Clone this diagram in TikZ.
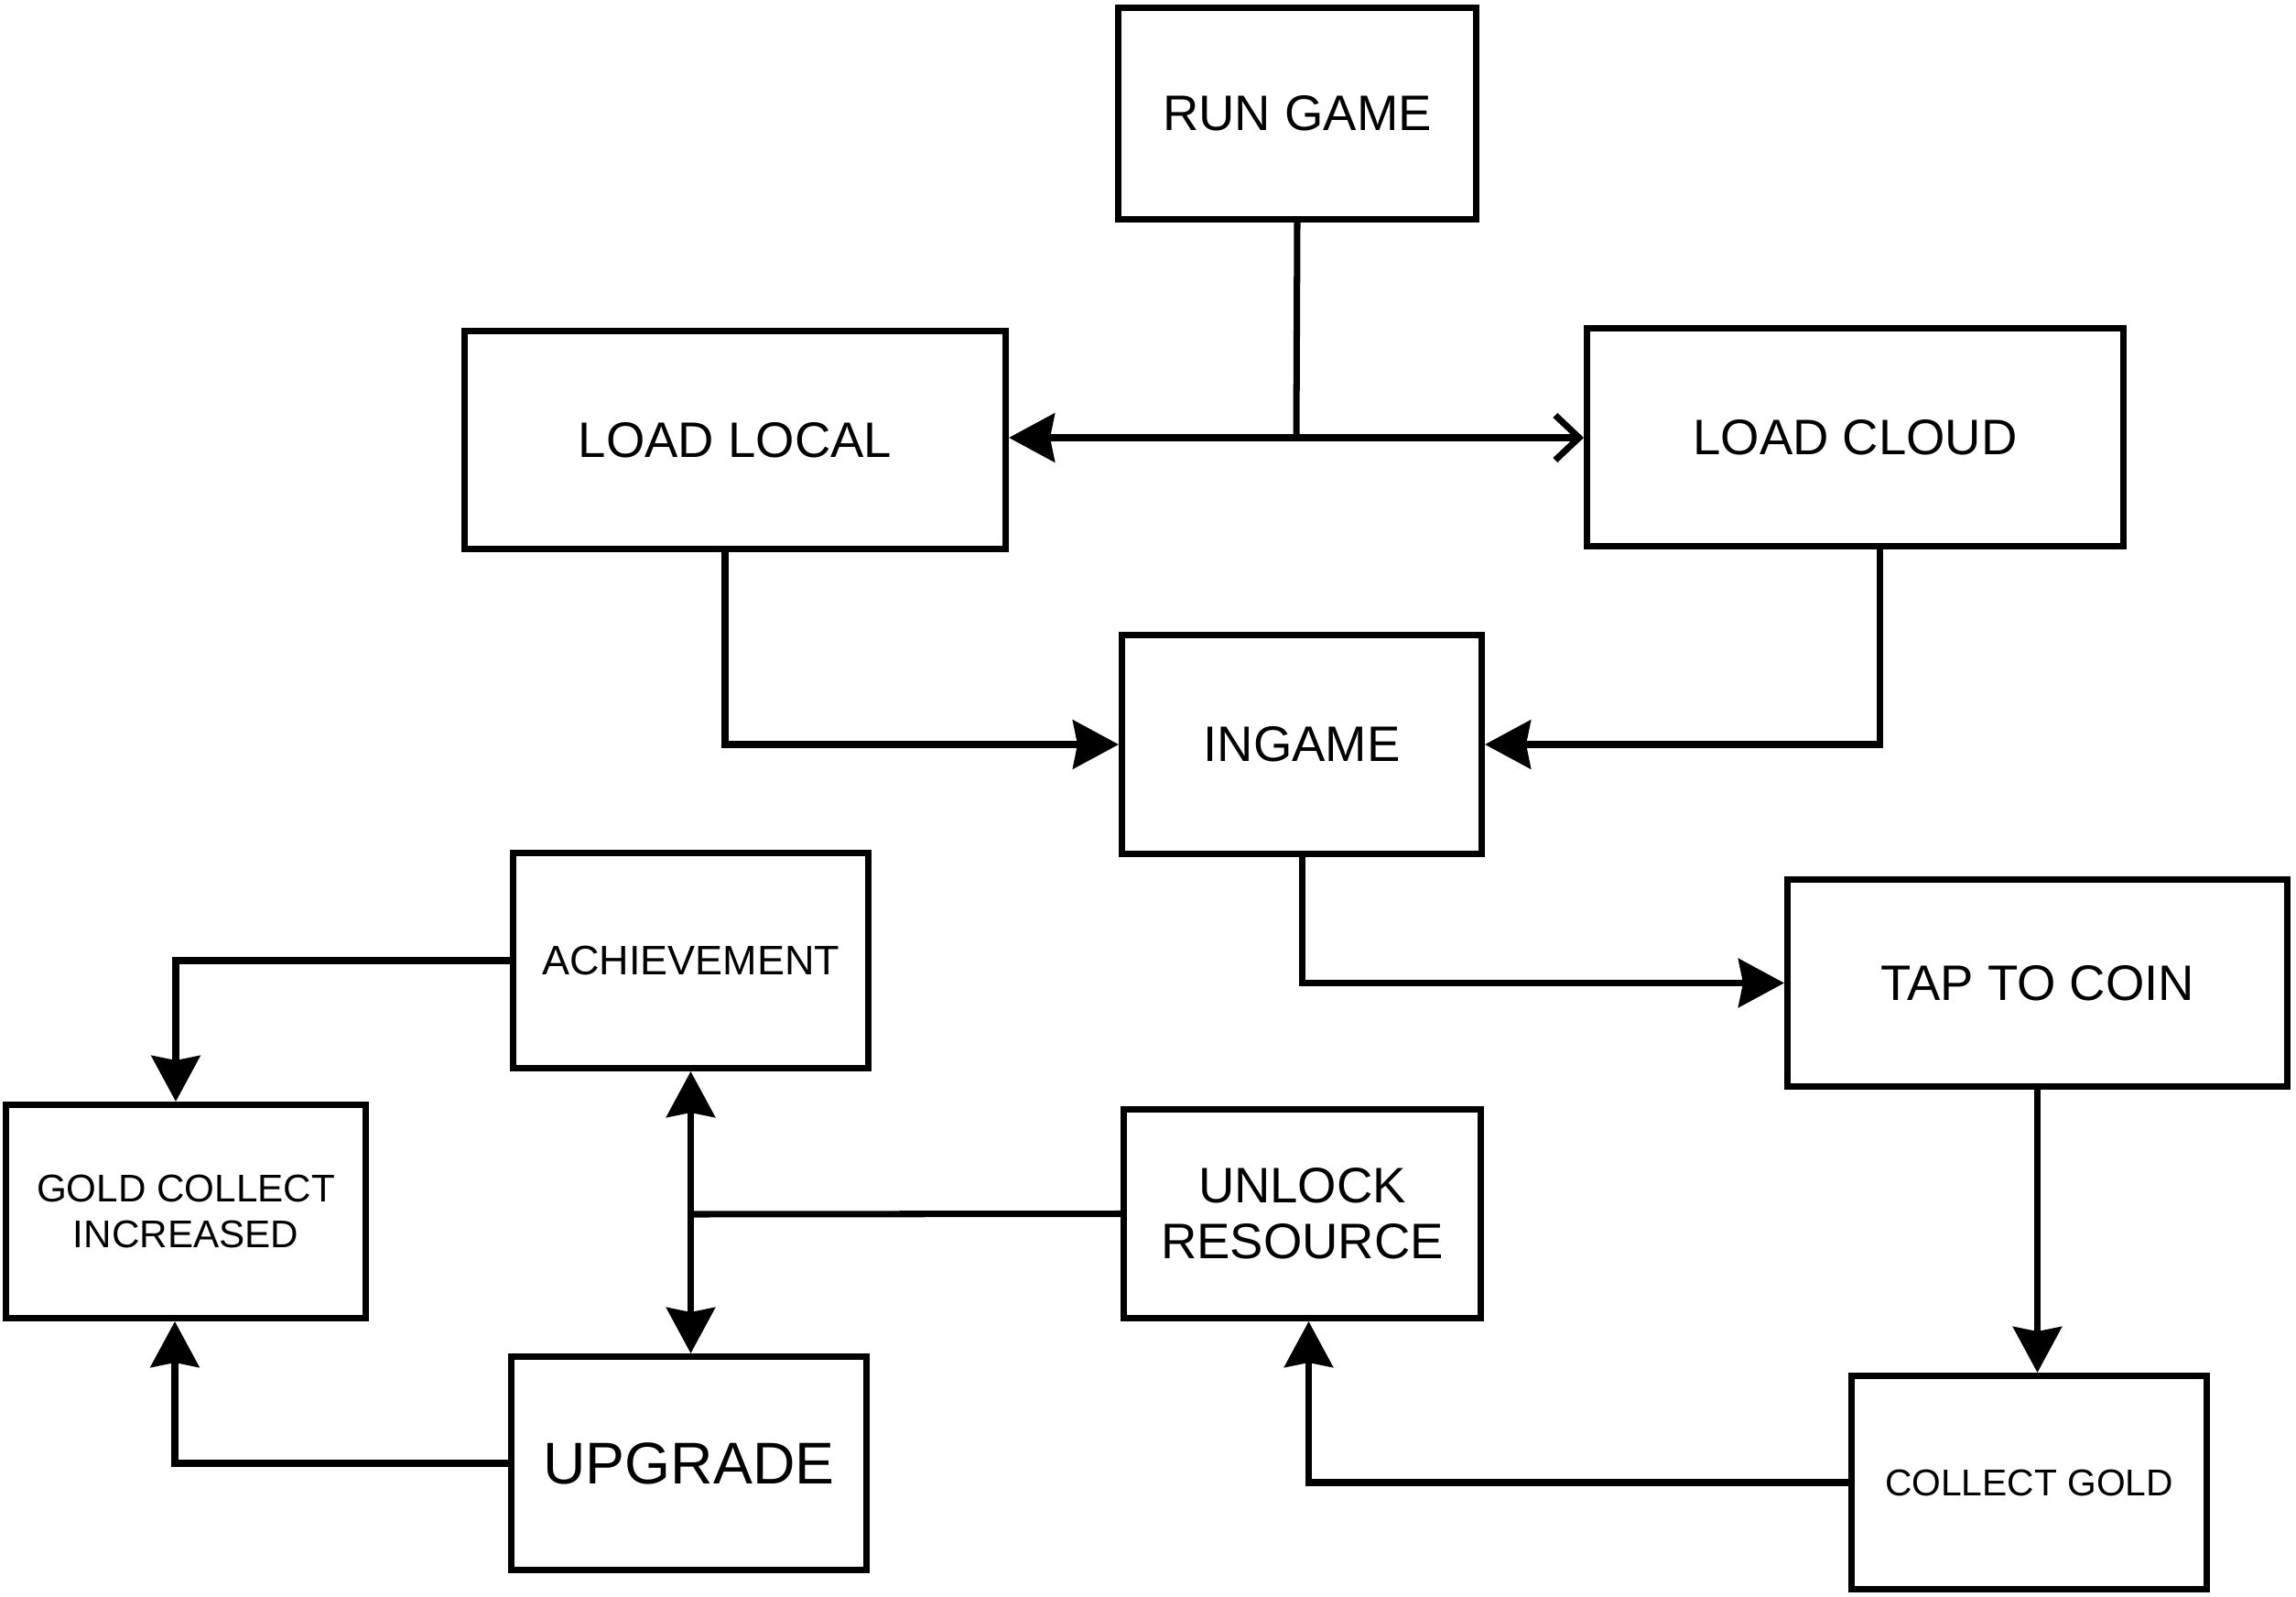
\documentclass[tikz,border=0pt]{standalone}
\usepackage{fontspec}
\setmainfont{Liberation Sans}
\usetikzlibrary{arrows.meta}

\begin{document}
\begin{tikzpicture}
                        [
                            block/.style = {draw, shape=rectangle, line width=2pt, inner sep=0pt, align=center, font=\fontsize{15.5}{17.3}\selectfont},
                            small/.style = {font=\fontsize{12}{14.1}\selectfont},
                            flow/.style = {line width=2pt, -{Stealth[length=5mm, width=5.3mm, inset=0.5mm]}},
                            both/.style = {line width=2pt, {Stealth[length=5mm, width=5.3mm, inset=0.5mm]}-{Stealth[length=5mm, width=5.3mm, inset=0.5mm]}},
                            barb/.style = {line width=2pt, -{Straight Barb[length=2.6mm, width=4.9mm, line width=2pt]}},
                            plain/.style = {line width=2pt},
                        ]

                        \useasboundingbox (0,0) rectangle (25.08,-17.44);

                        \node[block, minimum width=3.91cm, minimum height=2.31cm] (run) at (14.17,-1.24)     {RUN GAME};
                        \node[block, minimum width=5.91cm, minimum height=2.38cm] (local) at (8.03,-4.805)     {LOAD LOCAL};
                        \node[block, minimum width=5.86cm, minimum height=2.38cm] (cloud) at (20.265,-4.775)     {LOAD CLOUD};
                        \node[block, minimum width=3.93cm, minimum height=2.39cm] (ingame) at (14.22,-8.13)     {INGAME};
                        \node[block, minimum width=5.46cm, minimum height=2.26cm] (tap) at (22.255,-10.735)     {TAP TO COIN};

                        \node[block, small, minimum width=3.88cm, minimum height=2.35cm, font=\fontsize{12.8}{15}\selectfont] (ach) at (7.545,-10.49)     {ACHIEVEMENT};
                        \node[block, small, minimum width=3.93cm, minimum height=2.33cm] (gold) at (2.03,-13.23)     {GOLD COLLECT\\INCREASED};
                        \node[block, minimum width=3.90cm, minimum height=2.28cm] (unlock) at (14.225,-13.255)     {UNLOCK\\RESOURCE};
                        \node[block, minimum width=3.88cm, minimum height=2.33cm, font=\fontsize{18.3}{22}\selectfont] (upgrade) at (7.525,-15.98)     {UPGRADE};
                        \node[block, small, minimum width=3.88cm, minimum height=2.33cm, font=\fontsize{11.6}{14}\selectfont] (collect) at (22.165,-16.19)     {COLLECT GOLD};

                        \coordinate (split) at (14.16,-4.78);
                        \coordinate (join) at (7.545,-13.26);

                        \draw [plain] (run.south) -- (split);
                        \draw [flow] (split) -- (split -| local.east);
                        \draw [barb] (split) -- (split -| cloud.west);

                        \draw [flow] ([xshift=-0.11cm]local.south) |- (ingame.west);
                        \draw [flow] ([xshift=0.27cm]cloud.south) |- (ingame.east);
                        \draw [flow] (ingame.south) |- (tap.west);
                        \draw [flow] (tap.south) -- (tap.south |- collect.north);

                        \draw [flow] (collect.west) -| ([xshift=0.07cm]unlock.south);
                        \draw [plain] (unlock.west) -- (join);
                        \draw [both] (ach.south) -- (ach.south |- upgrade.north);

                        \draw [flow] (ach.west) -| ([xshift=-0.11cm]gold.north);
                        \draw [flow] (upgrade.west) -| ([xshift=-0.12cm]gold.south);

                    \end{tikzpicture}
\end{document}
